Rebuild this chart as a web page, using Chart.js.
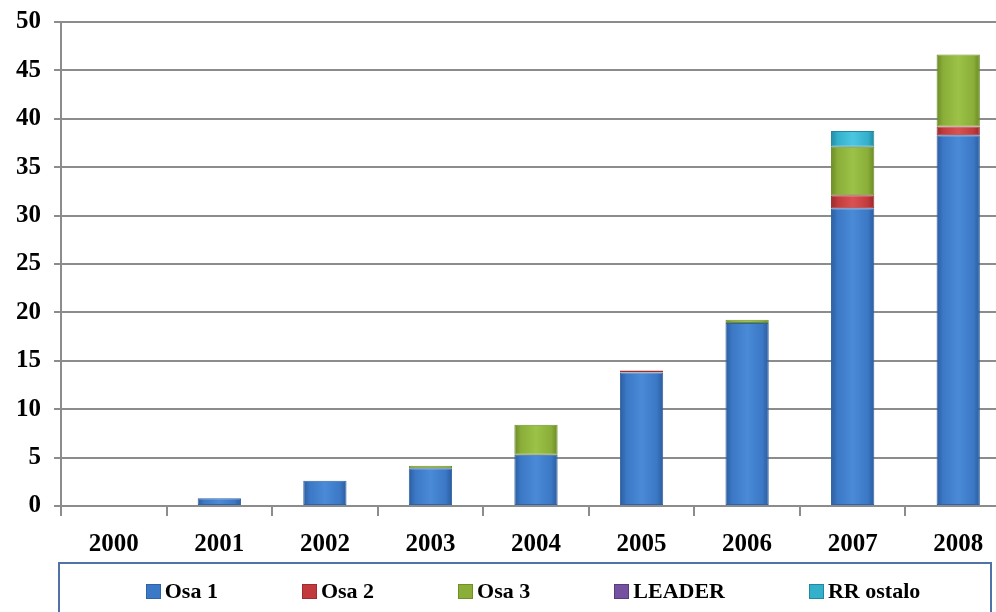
<!DOCTYPE html>
<html>
<head>
<meta charset="utf-8">
<script src="https://cdn.jsdelivr.net/npm/chart.js@4"></script>
<style>
    body { margin: 0; background: #fff; overflow: hidden; }
    #wrap { position: relative; width: 996px; height: 612px; overflow: hidden; }
    #barChart { position: absolute; left: 0; top: -6px; }
    #legend {
        position: absolute; left: 58px; top: 562px; width: 934px; height: 70px;
        border: 2px solid #4f72a8; box-sizing: border-box;
        display: flex; justify-content: center; gap: 84px; padding-top: 14px; padding-left: 16px;
        font-family: 'Liberation Serif', 'DejaVu Serif', serif; font-weight: bold; font-size: 22px; color: #000;
    }
    #legend span.item { display: flex; align-items: center; height: 26px; }
    #legend i { display: inline-block; width: 13px; height: 13px; margin-right: 4px; }
</style>
</head>
<body>
<!-- canvas is a bit bigger than the window: the original plot runs past the right edge -->
<div id="wrap">
    <canvas id="barChart" width="1011" height="580"></canvas>
    <div id="legend"></div>
</div>
<script>
// years on the x axis
var years = ["2000", "2001", "2002", "2003", "2004", "2005", "2006", "2007", "2008"];

// series values
var osa1     = [0, 0.8, 2.6, 3.9, 5.3, 13.8, 18.9, 30.75, 38.3];
var osa2     = [0, 0, 0, 0, 0, 0.2, 0, 1.35, 0.9];
var osa3     = [0, 0, 0, 0.25, 3.1, 0, 0.35, 5.0, 7.45];
var leader   = [0, 0, 0, 0, 0, 0, 0, 0, 0];
var rrOstalo = [0, 0, 0, 0, 0, 0, 0, 1.65, 0];

var yTicks = [0, 5, 10, 15, 20, 25, 30, 35, 40, 45, 50];

var fontFam = "'Liberation Serif', 'DejaVu Serif', serif";
var barPct = 0.41;

// horizontal shading across each bar, a rough take on the bevelled office look
function shade(light, mid, dark) {
    return function (ctx) {
        var xs = ctx.chart.scales.x;
        if (!xs || ctx.dataIndex === undefined) return mid;
        var cx = xs.getPixelForValue(ctx.dataIndex);
        var w = xs.width / years.length * barPct;
        if (!isFinite(cx) || !isFinite(w) || w <= 0) return mid;
        var g = ctx.chart.ctx.createLinearGradient(cx - w / 2, 0, cx + w / 2, 0);
        g.addColorStop(0, dark);
        g.addColorStop(0.15, mid);
        g.addColorStop(0.5, light);
        g.addColorStop(0.85, mid);
        g.addColorStop(1, dark);
        return g;
    };
}

function makeSet(label, data, light, mid, dark, border) {
    return {
        label: label,
        data: data,
        backgroundColor: shade(light, mid, dark),
        legendColor: mid,
        borderColor: border,
        borderWidth: 1,
        borderSkipped: false,
        categoryPercentage: 1.0,
        barPercentage: barPct
    };
}

var barChart = new Chart("barChart", {
    type: "bar",
    data: {
        labels: years,
        datasets: [
            makeSet("Osa 1", osa1, "#4a8ad6", "#3b78c6", "#2c5c9c", "#2f62a6"),
            makeSet("Osa 2", osa2, "#d85254", "#c23a3c", "#942a2c", "#9c2e30"),
            makeSet("Osa 3", osa3, "#9cc248", "#8aae38", "#6a8a26", "#6f8f2a"),
            makeSet("LEADER", leader, "#8a66b2", "#7452a0", "#563a7a", "#5a3c7c"),
            makeSet("RR ostalo", rrOstalo, "#4cc6e0", "#34b0cc", "#22889e", "#2288a0")
        ]
    },
    options: {
        responsive: false,
        animation: false,
        layout: { padding: { left: 3, right: 0, top: 0, bottom: 0 } },
        plugins: {
            legend: { display: false },
            tooltip: { enabled: false }
        },
        scales: {
            x: {
                stacked: true,
                grid: {
                    drawOnChartArea: false,
                    drawTicks: true,
                    tickLength: 10,
                    color: "#8c8c8c",
                    lineWidth: 2
                },
                border: { color: "#8c8c8c", width: 2 },
                ticks: {
                    color: "#000",
                    padding: 14,
                    font: { family: fontFam, size: 25, weight: "bold" }
                }
            },
            y: {
                stacked: true,
                min: yTicks[0],
                max: yTicks[yTicks.length - 1],
                afterBuildTicks: function (axis) {
                    axis.ticks = yTicks.map(function (v) { return { value: v }; });
                },
                grid: {
                    color: "#8c8c8c",
                    lineWidth: 2,
                    tickLength: 7
                },
                border: { color: "#8c8c8c", width: 2 },
                ticks: {
                    color: "#000",
                    padding: 13,
                    font: { family: fontFam, size: 25, weight: "bold" }
                }
            }
        }
    }
});

// legend drawn as html so it can sit in its framed box
var legendDiv = document.getElementById("legend");
barChart.data.datasets.forEach(function (ds) {
    var item = document.createElement("span");
    item.className = "item";
    item.innerHTML = '<i style="background:' + ds.legendColor + ';border:1px solid ' + ds.borderColor + '"></i>' + ds.label;
    legendDiv.appendChild(item);
});
</script>
</body>
</html>
